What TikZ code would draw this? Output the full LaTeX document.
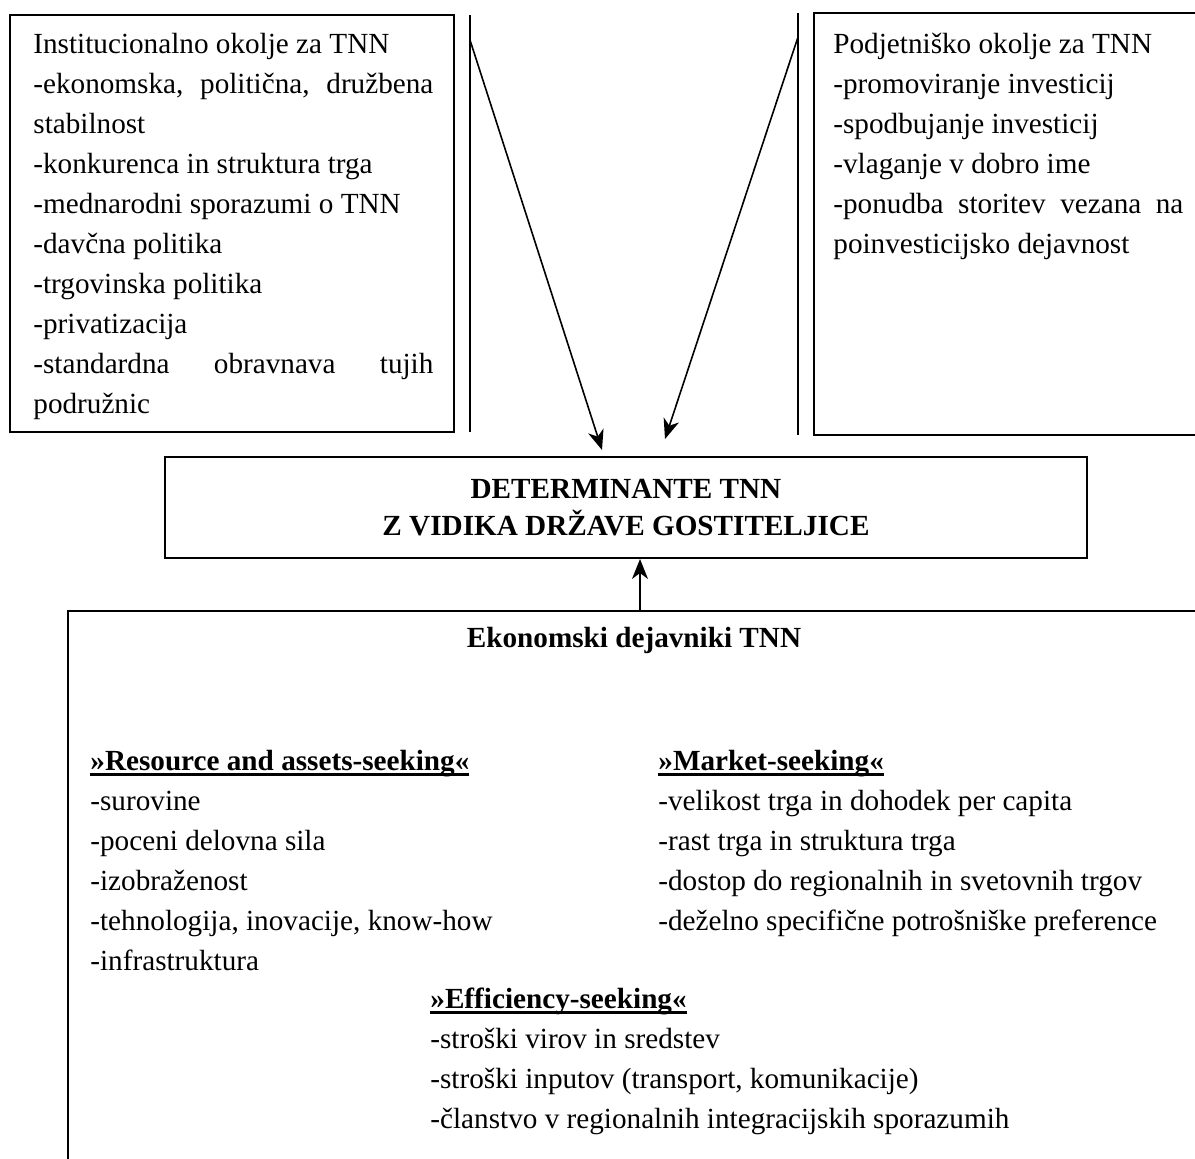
\documentclass[tikz,border=0pt]{standalone}
\usepackage{fontspec}
\setmainfont{Liberation Serif}
\usetikzlibrary{arrows.meta,positioning}
\newcommand{\bodysize}{\fontsize{14.6pt}{20pt}\selectfont}
\newcommand{\ulbold}[1]{\setbox0\hbox{\textbf{#1}}\rlap{\rule[-2.6pt]{\wd0}{1.4pt}}\box0}
\tikzset{
  box/.style={draw, line width=1pt},
  txt/.style={font=\bodysize, align=left, inner sep=0pt, anchor=north west},
  head/.style={font=\bodysize\bfseries, inner sep=0pt},
  arr/.style={-{Stealth[length=10pt,width=8pt,inset=3pt]}, line width=0.8pt}
}

\begin{document}
\begin{tikzpicture}[x=0.5pt,y=-0.5pt]
  \useasboundingbox (0,0) rectangle (1195,1158);
  \clip (0,0) rectangle (1195,1158);

  %%%%% top boxes %%%%%
  \draw[box] (10,15) rectangle (454,432);
  \node[txt] (inst) at (33,33) {Institucionalno okolje za TNN\\
    \makebox[200pt][s]{-ekonomska, politična, družbena}\\
    stabilnost\\
    -konkurenca in struktura trga\\
    -mednarodni sporazumi o TNN\\
    -davčna politika\\
    -trgovinska politika\\
    -privatizacija\\
    \makebox[200pt][s]{-standardna obravnava tujih}\\
    podružnic};

  \draw[box] (814,13) rectangle (1210,435);
  \node[txt] (podj) at (833,33) {Podjetniško okolje za TNN\\
    -promoviranje investicij\\
    -spodbujanje investicij\\
    -vlaganje v dobro ime\\
    \makebox[175pt][s]{-ponudba storitev vezana na}\\
    poinvesticijsko dejavnost};

  % double lines and arrows
  \draw[line width=1pt] (470,15) -- (470,432);
  \draw[line width=1pt] (798,13) -- (798,435);
  \coordinate (lfrom) at (470,40);
  \coordinate (lto) at (602,450);
  \coordinate (rfrom) at (798,37);
  \coordinate (rto) at (665,439);
  \draw[arr] (lfrom) -- (lto);
  \draw[arr] (rfrom) -- (rto);

  %%%%% centre %%%%%
  \node[box, minimum width=461pt, minimum height=50.5pt, align=center,
        font=\bodysize\bfseries] (det) at (626,507.5)
        {DETERMINANTE TNN\\[-1.5pt] Z VIDIKA DRŽAVE GOSTITELJICE};

  %%%%% bottom box %%%%%
  \draw[box] (68,611) rectangle (1210,1180);
  \coordinate (up) at (640,611);
  \draw[arr] (up) -- (up |- det.south);

  \node[head] (eko) at (634,640) {Ekonomski dejavniki TNN};

  \node[txt] (res) at (90,750) {\ulbold{»Resource and assets-seeking«}\\
    -surovine\\
    -poceni delovna sila\\
    -izobraženost\\
    -tehnologija, inovacije, know-how\\
    -infrastruktura};

  \node[txt] (mkt) at (658,750) {\ulbold{»Market-seeking«}\\
    -velikost trga in dohodek per capita\\
    -rast trga in struktura trga\\
    -dostop do regionalnih in svetovnih trgov\\
    -deželno specifične potrošniške preference};

  \node[txt] (eff) at (430,988) {\ulbold{»Efficiency-seeking«}\\
    -stroški virov in sredstev\\
    -stroški inputov (transport, komunikacije)\\
    -članstvo v regionalnih integracijskih sporazumih};
\end{tikzpicture}
\end{document}
